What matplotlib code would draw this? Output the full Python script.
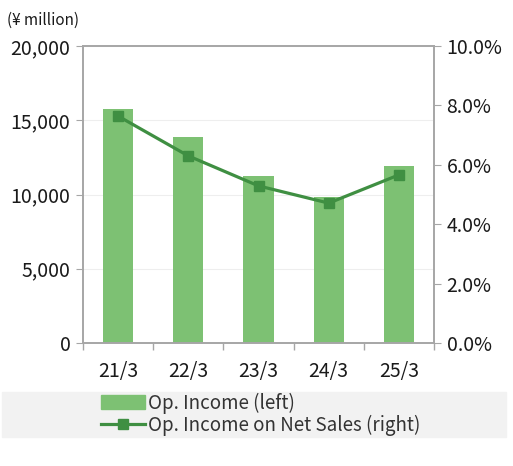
import matplotlib.pyplot as plt
import matplotlib.patches as mpatches
from matplotlib.lines import Line2D
from matplotlib.ticker import FuncFormatter, FixedLocator

plt.rcParams['font.family'] = ['Noto Sans CJK JP', 'DejaVu Sans']

# data
years = ['21/3', '22/3', '23/3', '24/3', '25/3']
op_income = [15760, 13870, 11250, 9810, 11920]
op_margin = [7.64, 6.30, 5.29, 4.71, 5.66]

bar_color = '#7dc173'
line_color = '#3f8f42'
axis_color = '#a6a6a6'
txt = '#1a1a1a'

fig = plt.figure(figsize=(5.13, 4.66), dpi=100)
ax = fig.add_axes([83 / 513, 1 - 343 / 466, 351 / 513, 297 / 466])
x = range(len(years))
ax.bar(x, op_income, width=0.43, color=bar_color, zorder=2)
ax.set_xlim(-0.5, len(years) - 0.5)
ax.set_ylim(0, 20000)
ax.set_yticks([0, 5000, 10000, 15000, 20000])
ax.yaxis.set_major_formatter(FuncFormatter(lambda v, p: f'{int(v):,}'))
ax.grid(axis='y', color='#eeeeee', lw=0.8, zorder=0)
ax.set_xticks(list(x))
ax.set_xticklabels(years)
ax.xaxis.set_minor_locator(FixedLocator([i - 0.5 for i in range(len(years) + 1)]))
ax.tick_params(axis='x', which='major', length=0, pad=13, labelsize=14, labelcolor=txt)
ax.tick_params(axis='x', which='minor', length=5, color=axis_color, width=1)
ax.tick_params(axis='y', length=5, color=axis_color, labelsize=14, labelcolor=txt, pad=4)
for s in ax.spines.values():
    s.set_color(axis_color)
    s.set_linewidth(1.2)

ax2 = ax.twinx()
ax2.plot(x, op_margin, color=line_color, lw=2.3, marker='s', ms=7, zorder=3)
ax2.set_ylim(0, 10)
ax2.set_yticks([0, 2, 4, 6, 8, 10])
ax2.yaxis.set_major_formatter(FuncFormatter(lambda v, p: f'{v:.1f}%'))
ax2.tick_params(axis='y', length=5, color=axis_color, labelsize=14, labelcolor=txt, pad=4)
for s in ax2.spines.values():
    s.set_color(axis_color)
    s.set_linewidth(1.2)

fig.text(7 / 513, 1 - 20 / 466, '(¥ million)', fontsize=11, color=txt, va='center')

# legend box
fig.patches.append(mpatches.Rectangle((2 / 513, 1 - 437 / 466), 504 / 513, 45 / 466,
                                      transform=fig.transFigure, color='#f2f2f2', zorder=0))
handles = [mpatches.Patch(color=bar_color),
           Line2D([], [], color=line_color, lw=2.3, marker='s', ms=7)]
fig.legend(handles, ['Op. Income (left)', 'Op. Income on Net Sales (right)'],
           loc='center left', bbox_to_anchor=(92 / 513, 1 - 414 / 466), frameon=False,
           fontsize=13.5, handlelength=2.3, handletextpad=0.2, labelspacing=0.05,
           borderpad=0, labelcolor='#333333')

fig.savefig('out.png', dpi=100)
